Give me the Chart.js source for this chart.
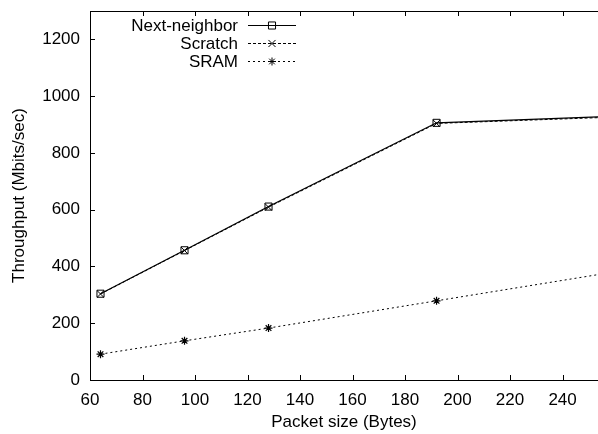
<!DOCTYPE html>
<html>
<head>
<meta charset="utf-8">
<script src="https://cdn.jsdelivr.net/npm/chart.js@4.4.0/dist/chart.umd.min.js"></script>
<style>
  body { margin: 0; background: #fff; }
  .chart { width: 598px; height: 434px; position: relative; }
</style>
</head>
<body>
<div class="chart"><canvas id="plot"></canvas></div>
<script>
// values
var packetSizes = [64, 96, 128, 192, 256];
var nextNeighbor = [304, 457, 611, 906, 928];
var scratch = [303, 456, 609, 904, 925];
var sram = [91, 138, 183, 279, 375];
var seriesNames = ['Next-neighbor', 'Scratch', 'SRAM'];
var xTickStep = 20;
var yTickStep = 200;

var FONT = 'Liberation Sans, Arial, Helvetica, sans-serif';
var FSIZE = 17;

function toPoints(ys) {
  return packetSizes.map(function(x, i) { return {x: x, y: ys[i]}; });
}

// gnuplot style box, inward ticks and key
var gnuplotBox = {
  id: 'gnuplotBox',
  afterDraw: function(chart) {
    var ctx = chart.ctx;
    var a = chart.chartArea;
    var xs = chart.scales.x, ys = chart.scales.y;
    ctx.save();
    ctx.strokeStyle = '#000';
    ctx.lineWidth = 1;
    ctx.strokeRect(a.left + 0.5, a.top + 0.5, a.right - a.left + 4, a.bottom - a.top);
    ctx.beginPath();
    xs.ticks.forEach(function(t) {
      var px = Math.round(xs.getPixelForValue(t.value)) + 0.5;
      ctx.moveTo(px, a.bottom); ctx.lineTo(px, a.bottom - 5);
      ctx.moveTo(px, a.top); ctx.lineTo(px, a.top + 5);
    });
    ys.ticks.forEach(function(t) {
      var py = Math.round(ys.getPixelForValue(t.value)) + 0.5;
      ctx.moveTo(a.left, py); ctx.lineTo(a.left + 5, py);
    });
    ctx.stroke();

    // key
    ctx.font = FSIZE + 'px ' + FONT;
    ctx.textAlign = 'right';
    ctx.textBaseline = 'middle';
    chart.data.datasets.forEach(function(ds, i) {
      var y = 25 + i * 18;
      ctx.fillStyle = '#000';
      ctx.fillText(ds.label, 238, y + 1);
      ctx.beginPath();
      ctx.setLineDash(ds.borderDash || []);
      ctx.lineWidth = ds.borderWidth;
      ctx.moveTo(248, y + 0.5); ctx.lineTo(296, y + 0.5);
      ctx.stroke();
      ctx.setLineDash([]);
      ctx.lineWidth = 1;
      ctx.fillStyle = 'rgba(0,0,0,0)';
      Chart.helpers.drawPoint(ctx, {pointStyle: ds.pointStyle, radius: ds.pointRadius, rotation: 0, borderWidth: 1}, 272, y + 0.5);
    });
    ctx.restore();
  }
};

new Chart(document.getElementById('plot'), {
  type: 'line',
  data: {
    datasets: [
      {
        label: seriesNames[0],
        data: toPoints(nextNeighbor),
        borderColor: '#000',
        borderWidth: 1.2,
        pointStyle: 'rect',
        pointRadius: 5,
        pointBorderColor: '#000',
        pointBackgroundColor: 'rgba(0,0,0,0)',
        pointBorderWidth: 1
      },
      {
        label: seriesNames[1],
        data: toPoints(scratch),
        borderColor: '#000',
        borderWidth: 1,
        borderDash: [3, 2],
        pointStyle: 'crossRot',
        pointRadius: 5,
        pointBorderColor: '#000',
        pointBorderWidth: 1
      },
      {
        label: seriesNames[2],
        data: toPoints(sram),
        borderColor: '#000',
        borderWidth: 1,
        borderDash: [2, 3],
        pointStyle: 'star',
        pointRadius: 4,
        pointBorderColor: '#000',
        pointBorderWidth: 1.2
      }
    ]
  },
  options: {
    responsive: true,
    maintainAspectRatio: false,
    animation: false,
    layout: { autoPadding: false, padding: { top: 11, right: 0, left: 0, bottom: 0 } },
    plugins: {
      legend: { display: false },
      tooltip: { enabled: false }
    },
    elements: { line: { tension: 0 } },
    scales: {
      x: {
        type: 'linear',
        min: 60,
        max: 253.5,
        afterBuildTicks: function(scale) {
          scale.ticks = scale.ticks.filter(function(t) { return t.value % xTickStep === 0; });
        },
        afterFit: function(scale) { scale.height = 54; scale.paddingLeft = 0; scale.paddingRight = 0; },
        ticks: { stepSize: xTickStep, includeBounds: false, color: '#000', padding: 10, maxRotation: 0,
                 callback: function(v) { return String(v); }, font: { family: FONT, size: FSIZE } },
        grid: { display: false, drawTicks: false },
        border: { display: false },
        title: { display: true, text: 'Packet size (Bytes)', color: '#000', padding: { top: 0, bottom: 1 }, font: { family: FONT, size: FSIZE } }
      },
      y: {
        type: 'linear',
        min: 0,
        max: 1300,
        afterBuildTicks: function(scale) {
          scale.ticks = scale.ticks.filter(function(t) { return t.value % yTickStep === 0; });
        },
        afterFit: function(scale) { scale.width = 90; scale.paddingTop = 0; scale.paddingBottom = 0; },
        ticks: { stepSize: yTickStep, includeBounds: false, color: '#000', padding: 10,
                 callback: function(v) { return String(v); }, font: { family: FONT, size: FSIZE } },
        grid: { display: false, drawTicks: false },
        border: { display: false },
        title: { display: true, text: 'Throughput (Mbits/sec)', color: '#000', padding: { top: 9, bottom: 0 }, font: { family: FONT, size: FSIZE } }
      }
    }
  },
  plugins: [gnuplotBox]
});
</script>
</body>
</html>
